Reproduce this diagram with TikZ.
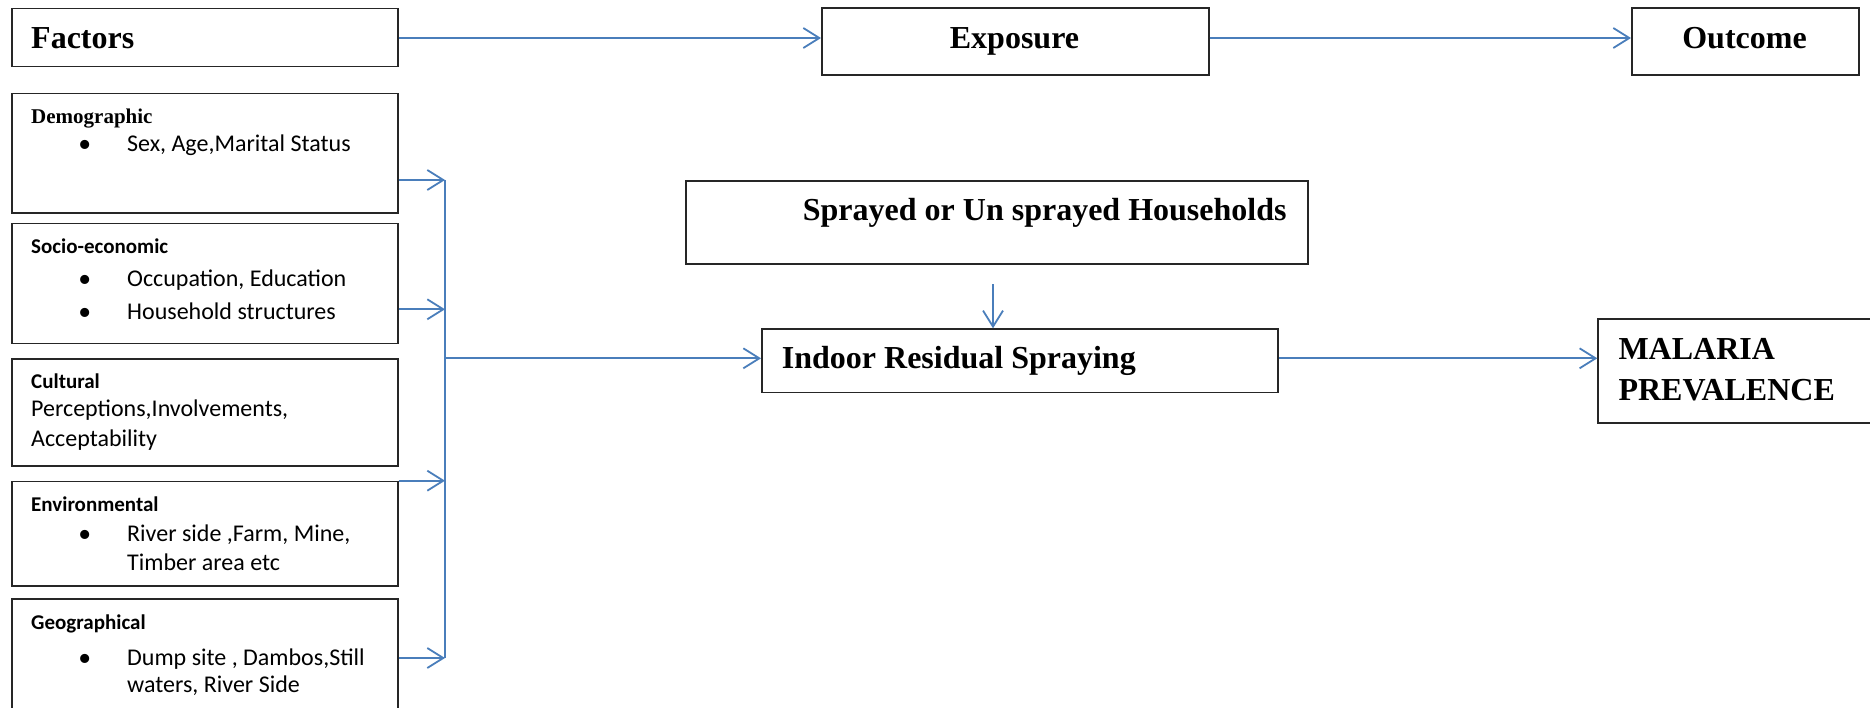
\documentclass[tikz,border=0pt]{standalone}
\usepackage{fontspec}
\setmainfont{Liberation Serif}
\newfontfamily\calibri{Carlito}
\usetikzlibrary{arrows.meta}
\definecolor{arrowblue}{RGB}{74,126,187}

\tikzstyle{panel}=[draw=black!85, line width=1.5pt, inner sep=0pt, anchor=north west]
\tikzstyle{head}=[inner sep=0pt, anchor=base west, font=\fontsize{32}{38}\selectfont\bfseries]
\tikzstyle{subhead}=[inner sep=0pt, anchor=base west, font=\fontsize{21}{25}\selectfont\calibri\bfseries]
\tikzstyle{entry}=[inner sep=0pt, anchor=base west, font=\fontsize{24}{29}\selectfont\calibri]
\tikzstyle{flow}=[->, draw=arrowblue, line width=1.8pt]

\newcommand{\bul}{\llap{\makebox[84pt][c]{\smash{\raisebox{-6pt}{\fontsize{38}{38}\selectfont\rmfamily\textbullet}}}}}

\begin{document}
\begin{tikzpicture}[x=1pt, y=-1pt, >={Straight Barb[length=16pt,width=20pt]}]
  \useasboundingbox (0,0) rectangle (1870,707);

  % top row
  \node (factors) [panel, minimum width=386pt, minimum height=58pt] at (11,7.5) {};
  \node (exposure) [panel, minimum width=387pt, minimum height=66.7pt] at (821,7.3) {};
  \node (outcome) [panel, minimum width=227pt, minimum height=66.7pt] at (1631,7.3) {};
  \node (factorstxt) [head] at (31,48.3) {Factors};
  \node (exposuretxt) [head, anchor=base] at (1014.5,48.3) {Exposure};
  \node (outcometxt) [head, anchor=base] at (1744.5,48.3) {Outcome};

  % factor boxes
  \node (demo) [panel, minimum width=386pt, minimum height=119.3pt] at (11,92.7) {};
  \node (socio) [panel, minimum width=386pt, minimum height=120pt] at (11,222.7) {};
  \node (cult) [panel, minimum width=386pt, minimum height=106.7pt] at (11,358.3) {};
  \node (env) [panel, minimum width=386pt, minimum height=104.3pt] at (11,480.7) {};
  \node (geo) [panel, minimum width=386pt, minimum height=130pt] at (11,598.3) {};

  \node (demotitle) [subhead, font=\fontsize{21}{25}\selectfont\bfseries] at (31,123.3) {Demographic};
  \node (demo1) [entry] at (127,151.7) {\bul Sex, Age,Marital Status};

  \node (sociotitle) [subhead] at (31,253.3) {Socio-economic};
  \node (socio1) [entry] at (127,286.7) {\bul Occupation, Education};
  \node (socio2) [entry] at (127,319) {\bul Household structures};

  \node (culttitle) [subhead] at (31,388.3) {Cultural};
  \node (cult1) [entry] at (31,416.7) {Perceptions,Involvements,};
  \node (cult2) [entry] at (31,446.7) {Acceptability};

  \node (envtitle) [subhead] at (31,511.7) {Environmental};
  \node (env1) [entry] at (127,541) {\bul River side ,Farm, Mine,};
  \node (env2) [entry] at (127,570) {Timber area etc};

  \node (geotitle) [subhead] at (31,629.3) {Geographical};
  \node (geo1) [entry] at (127,665) {\bul Dump site , Dambos,Still};
  \node (geo2) [entry] at (127,692.7) {waters, River Side};

  % exposure and outcome
  \node (sprayed) [panel, minimum width=622.3pt, minimum height=83.3pt] at (685,180) {};
  \node (irs) [panel, minimum width=516.3pt, minimum height=63.4pt] at (761,328.3) {};
  \node (malaria) [panel, minimum width=300pt, minimum height=104pt] at (1597.3,318.3) {};
  \node (sprayedtxt) [head] at (802.7,220) {Sprayed or Un sprayed Households};
  \node (irstxt) [head] at (781.7,368.3) {Indoor Residual Spraying};
  \node (malaria1) [head] at (1618.3,359) {MALARIA};
  \node (malaria2) [head] at (1618.3,400.7) {PREVALENCE};

  % connectors
  \coordinate (toprow) at (0,38);
  \coordinate (bus) at (445,0);
  \coordinate (rowdemo) at (0,180);
  \coordinate (rowsocio) at (0,309.3);
  \coordinate (rowenv) at (0,480.7);
  \coordinate (rowgeo) at (0,658);
  \coordinate (rowmain) at (0,358.3);
  \coordinate (spraytail) at (993,284.3);

  \draw [flow] (factors.east |- toprow) -- (exposure.west |- toprow);
  \draw [flow] (exposure.east |- toprow) -- (outcome.west |- toprow);

  \draw [flow] (demo.east |- rowdemo) -- (bus |- rowdemo);
  \draw [flow] (socio.east |- rowsocio) -- (bus |- rowsocio);
  \draw [flow] (env.east |- rowenv) -- (bus |- rowenv);
  \draw [flow] (geo.east |- rowgeo) -- (bus |- rowgeo);
  \draw [draw=arrowblue, line width=1.8pt] (bus |- rowdemo) -- (bus |- rowgeo);

  \draw [flow] (bus |- rowmain) -- (irs.west |- rowmain);
  \draw [flow] (spraytail) -- (spraytail |- irs.north);
  \draw [flow] (irs.east |- rowmain) -- (malaria.west |- rowmain);
\end{tikzpicture}
\end{document}
